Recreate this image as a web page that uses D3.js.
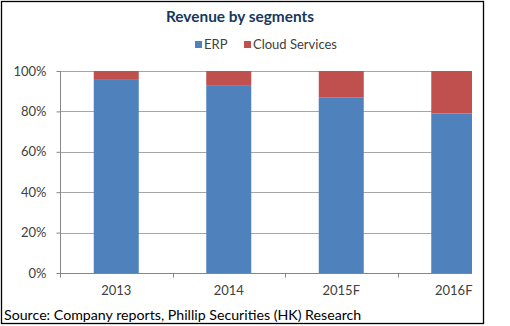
<!DOCTYPE html>
<html><head><meta charset="utf-8">
<script src="https://cdn.jsdelivr.net/npm/d3@7"></script>
<style>html,body{margin:0;padding:0;background:#fff;}svg{display:block;}</style>
</head><body>
<script>
const categories = ["2013", "2014", "2015F", "2016F"];
const erp = [96, 93, 87, 79];
const cloud = [4, 7, 13, 21];
const seriesNames = ["ERP", "Cloud Services"];
const yTicks = [0, 20, 40, 60, 80, 100];

(function () {
const W = 510, H = 326;
const svg = d3.select("body").append("svg").attr("width", W).attr("height", H);
const font = "Lato, 'Open Sans', sans-serif";

svg.append("rect").attr("x", 1.5).attr("y", 1.5).attr("width", 482).attr("height", 322)
  .attr("fill", "#fff").attr("stroke", "#000").attr("stroke-width", 1.3);

const pLeft = 60, pTop = 71, pBottom = 273, clipRight = 472;
const x = d3.scaleBand().domain(categories).range([pLeft, pLeft + 450]).paddingInner(0.6).paddingOuter(0.3);
const y = d3.scaleLinear().domain([0, 100]).range([pBottom, pTop]);

svg.append("defs").append("clipPath").attr("id", "clip")
  .append("rect").attr("x", 0).attr("y", 0).attr("width", clipRight).attr("height", H);

const plot = svg.append("g").attr("clip-path", "url(#clip)");

plot.selectAll("line.grid").data(yTicks.filter(d => d > 0)).enter().append("line")
  .attr("x1", pLeft).attr("x2", pLeft + 450)
  .attr("y1", d => Math.round(y(d)) + 0.5).attr("y2", d => Math.round(y(d)) + 0.5)
  .attr("stroke", "#a6a6a6").attr("stroke-width", 1);

const data = categories.map((c, i) => ({c, erp: erp[i], cloud: cloud[i]}));
const stack = d3.stack().keys(["erp", "cloud"])(data);
const colors = ["#4F81BD", "#C0504D"];

stack.forEach((layer, li) => {
  plot.selectAll(null).data(layer).enter().append("rect")
    .attr("x", d => x(d.data.c))
    .attr("width", x.bandwidth())
    .attr("y", d => y(d[1]))
    .attr("height", d => y(d[0]) - y(d[1]))
    .attr("fill", colors[li]);
});

const yAxis = svg.append("g").attr("transform", `translate(${pLeft + 0.5},0)`)
  .call(d3.axisLeft(y).tickValues(yTicks).tickFormat(d => d + "%").tickSize(4).tickPadding(10));
yAxis.select(".domain").attr("stroke", "#868686").attr("d", `M0,${pTop}V${pBottom}`);
yAxis.selectAll(".tick line").attr("stroke", "#868686");
yAxis.selectAll(".tick text").attr("fill", "#404040").style("font-family", font).style("font-size", "13px");

const xAxisG = plot.append("g").attr("transform", `translate(0,${pBottom + 0.5})`);
xAxisG.append("line").attr("x1", pLeft).attr("x2", pLeft + 450).attr("stroke", "#868686");
const boundaries = d3.range(categories.length + 1).map(i => pLeft + i * x.step());
xAxisG.selectAll("line.tk").data(boundaries).enter().append("line")
  .attr("x1", d => Math.round(d) + 0.5).attr("x2", d => Math.round(d) + 0.5)
  .attr("y1", 0).attr("y2", 4).attr("stroke", "#868686");
svg.selectAll("text.xl").data(categories).enter().append("text")
  .attr("x", d => x(d) + x.bandwidth() / 2).attr("y", 295)
  .attr("text-anchor", "middle").attr("fill", "#404040")
  .style("font-family", font).style("font-size", "13px").text(d => d);

svg.append("text").attr("x", 240).attr("y", 22).attr("text-anchor", "middle")
  .attr("fill", "#17375E").style("font-family", font).style("font-weight", "bold").style("font-size", "15.4px")
  .text("Revenue by segments");

const legendItems = [{name: seriesNames[0], x: 195, color: colors[0]}, {name: seriesNames[1], x: 244, color: colors[1]}];
const lg = svg.selectAll("g.lg").data(legendItems).enter().append("g");
lg.append("rect").attr("x", d => d.x).attr("y", 41).attr("width", 7).attr("height", 7).attr("fill", d => d.color);
lg.append("text").attr("x", d => d.x + 9).attr("y", 49).attr("fill", "#404040")
  .style("font-family", font).style("font-size", "13px").text(d => d.name);

svg.append("text").attr("x", 4).attr("y", 320).attr("fill", "#000")
  .style("font-family", font).style("font-size", "14.2px")
  .text("Source: Company reports, Phillip Securities (HK) Research");
})();
</script>
</body></html>
